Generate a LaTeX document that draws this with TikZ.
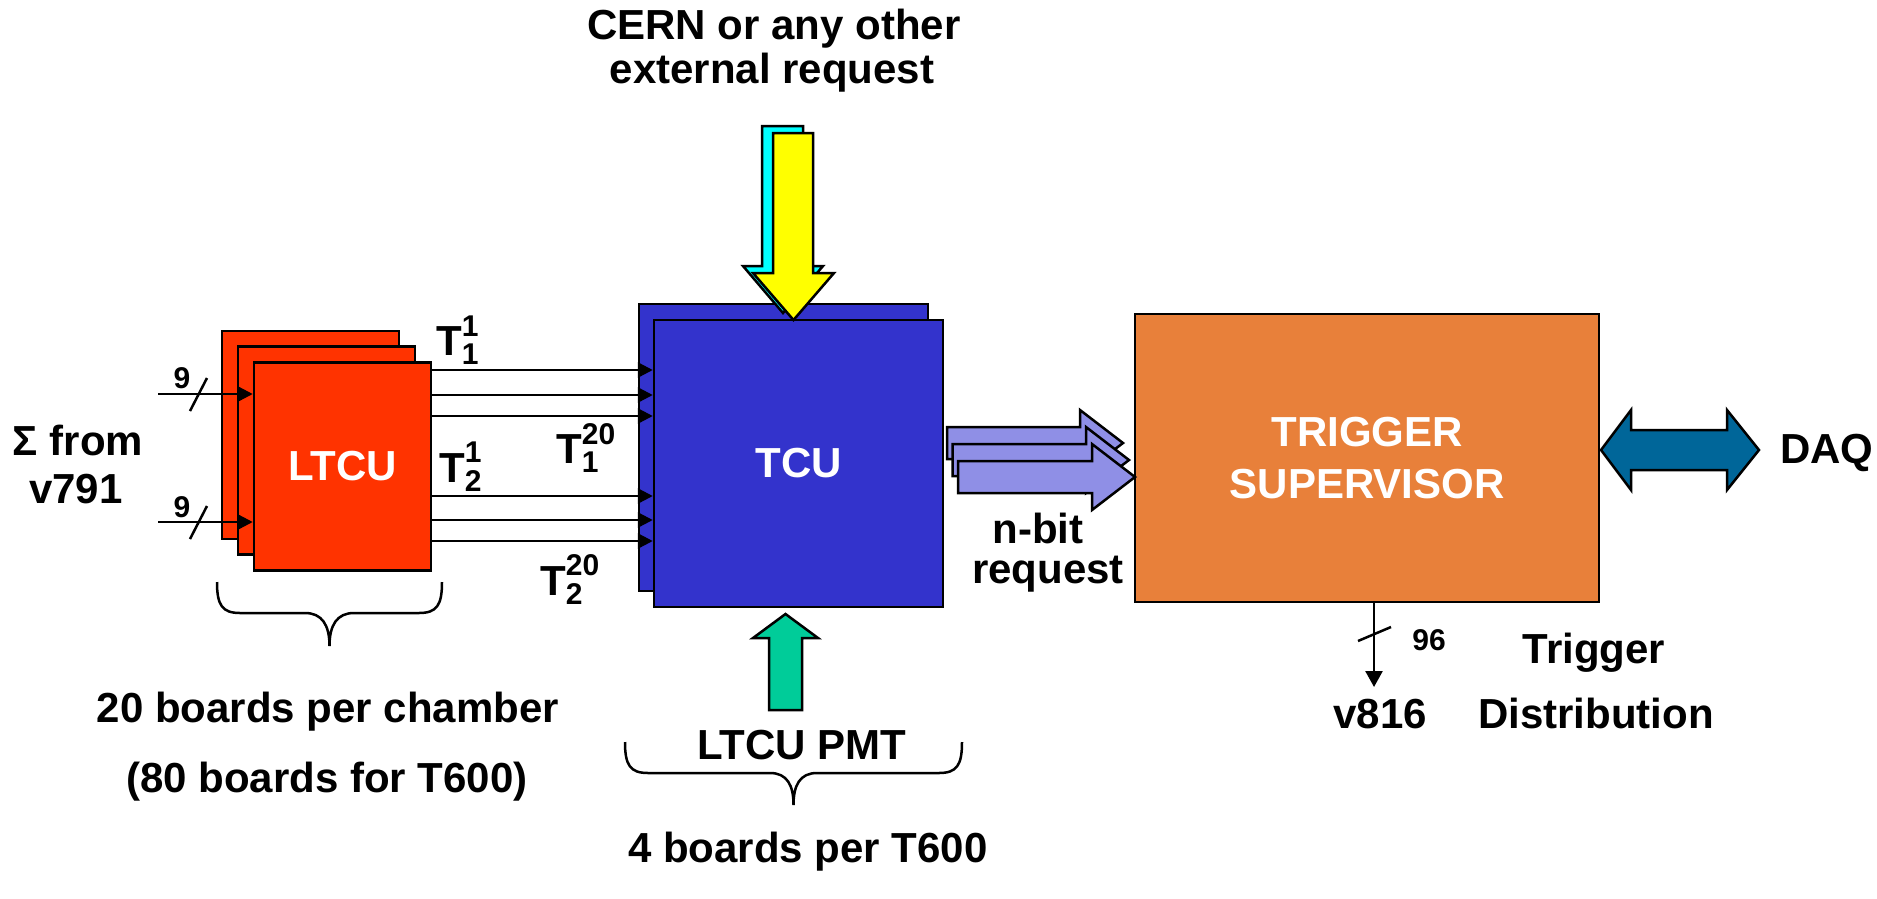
\documentclass[tikz,border=0pt]{standalone}
\usepackage{fontspec}
\setmainfont{Liberation Sans}
\usetikzlibrary{arrows.meta}

\definecolor{ltcured}{RGB}{255,51,0}
\definecolor{tcublue}{RGB}{51,51,204}
\definecolor{reqblue}{RGB}{143,143,230}
\definecolor{pmtgreen}{RGB}{0,204,153}
\definecolor{extcyan}{RGB}{0,255,255}
\definecolor{extyellow}{RGB}{255,255,0}
\definecolor{tsorange}{RGB}{232,128,58}
\definecolor{daqblue}{RGB}{0,102,153}

\newcommand{\bigfont}{\fontsize{42}{52}\selectfont\bfseries}
\newcommand{\idxfont}{\fontsize{30}{24}\selectfont\bfseries}
\newcommand{\busfont}{\fontsize{30}{34}\selectfont\bfseries}
% T with stacked superscript (top row) and subscript (bottom row)
\newcommand{\Tsig}[2]{T\raisebox{-9pt}{\idxfont\begin{tabular}[b]{@{}l@{}}#2\\#1\end{tabular}}}

\begin{document}
\begin{tikzpicture}[x=1pt,y=-1pt,line join=miter,
  board/.style={draw=black,line width=2.5pt,rectangle,inner sep=0pt},
  ltcubox/.style={board,fill=ltcured,minimum width=177pt,minimum height=208pt},
  tcubox/.style={board,fill=tcublue,minimum width=289pt,minimum height=287pt},
  txt/.style={font=\bigfont,inner sep=0pt,anchor=base},
  sig/.style={line width=2.5pt,-{Triangle[length=15pt,width=15pt]}},
  bus/.style={line width=2.5pt},
  blockarrow/.style={draw=black,line width=2.5pt},
  brace/.style={line width=2.5pt}]

\useasboundingbox (0,0) rectangle (1877,898);

% ---- LTCU stack ----
\node[ltcubox] (ltcu3) at (310.5,435) {};
\node[ltcubox] (ltcu2) at (326.5,450.5) {};
\node[ltcubox,font=\bigfont,text=white] (ltcu) at (342.5,466.5) {LTCU};

% ---- TCU stack ----
\node[tcubox] (tcuback) at (783.5,447.5) {};
\node[tcubox,font=\bigfont,text=white] (tcu) at (798.5,463.5) {TCU};

% ---- Trigger supervisor ----
\node[board,fill=tsorange,minimum width=464pt,minimum height=288pt,
      font=\bigfont,text=white,align=center] (ts) at (1367,458)
      {TRIGGER\\SUPERVISOR};

% ---- inputs to the LTCU ----
\node[txt] (sig1) at (78,455) {Σ from};
\node[txt] (sig2) at (76,503) {v791};
\coordinate (in1) at (158,394);
\coordinate (in2) at (158,522);
\draw[sig] (in1) -- (ltcu.west |- in1);
\draw[sig] (in2) -- (ltcu.west |- in2);
\draw[bus] (190,411) -- (207,378);
\draw[bus] (190,539) -- (207,506);
\node[font=\busfont,inner sep=0pt,anchor=base] (w1) at (182,388) {9};
\node[font=\busfont,inner sep=0pt,anchor=base] (w2) at (182,517) {9};

% ---- LTCU outputs to the TCU ----
\foreach \yy in {370,395,416,496,520,541}
  \draw[sig] (ltcu.east |- 0,\yy) -- (tcu.west |- 0,\yy);
\node[txt,anchor=base west] (t11) at (436,355) {\Tsig{1}{1}};
\node[txt,anchor=base west] (t120) at (556,463) {\Tsig{1}{20}};
\node[txt,anchor=base west] (t21) at (439,482) {\Tsig{2}{1}};
\node[txt,anchor=base west] (t220) at (540,595) {\Tsig{2}{20}};

% ---- external request (double block arrow from above) ----
\draw[blockarrow,fill=extcyan] (762,126) -- (803,126) -- (803,266) -- (823,266)
  -- (783,313) -- (743,266) -- (762,266) -- cycle;
\draw[blockarrow,fill=extyellow] (773,133) -- (813,133) -- (813,273) -- (834,273)
  -- (793.5,320) -- (753,273) -- (773,273) -- cycle;
\node[txt] (cern1) at (774,39) {CERN or any other};
\node[txt] (cern2) at (772,83) {external request};

% ---- PMT input from below ----
\draw[blockarrow,fill=pmtgreen] (769,710) -- (769,638) -- (753,638) -- (785.5,614)
  -- (818,638) -- (802,638) -- (802,710) -- cycle;
\node[txt] (pmt) at (802,759) {LTCU PMT};

% ---- n-bit request arrows ----
\foreach \k in {0,1,2} {
  \pgfmathsetmacro{\L}{947+5.5*\k}
  \pgfmathsetmacro{\T}{427+17*\k}
  \pgfmathsetmacro{\H}{1080+6*\k}
  \draw[blockarrow,fill=reqblue] (\L,\T) -- (\H,\T) -- (\H,\T-17) -- (\H+43,\T+16)
    -- (\H,\T+49) -- (\H,\T+32) -- (\L,\T+32) -- cycle;
}
\node[txt] (nbit) at (1038,543) {n-bit};
\node[txt] (nreq) at (1048,583) {request};

% ---- DAQ link ----
\draw[blockarrow,fill=daqblue] (1601,450) -- (1631,410) -- (1631,430) -- (1727,430)
  -- (1727,410) -- (1759,450) -- (1727,490) -- (1727,470) -- (1631,470)
  -- (1631,490) -- cycle;
\node[txt,anchor=base west] (daq) at (1780,463) {DAQ};

% ---- trigger distribution ----
\coordinate (v816in) at (1374,687);
\draw[line width=2.5pt,-{Triangle[length=16pt,width=17pt]}] (ts.south -| v816in) -- (v816in);
\draw[bus] (1358,641) -- (1391,627);
\node[font=\busfont,inner sep=0pt,anchor=base] (w96) at (1429,650) {96};
\node[txt] (v816) at (1380,728) {v816};
\node[txt] (trig) at (1594,663) {Trigger};
\node[txt] (dist) at (1596,728) {Distribution};

% ---- braces ----
\draw[brace] (217,582) .. controls (217,605) and (222,613) .. (240,613) -- (305,613)
  .. controls (322,613) and (329.5,625) .. (329.5,646)
  .. controls (329.5,625) and (337,613) .. (354,613) -- (419,613)
  .. controls (437,613) and (442,605) .. (442,582);
\node[txt] (b20) at (328,722) {20 boards per chamber};
\node[txt] (b80) at (327,792) {(80 boards for T600)};

\draw[brace] (625,742) .. controls (625,765) and (630,773) .. (648,773) -- (770,773)
  .. controls (787,773) and (793.5,785) .. (793.5,805)
  .. controls (793.5,785) and (800,773) .. (817,773) -- (939,773)
  .. controls (957,773) and (962,765) .. (962,742);
\node[txt] (b4) at (808,862) {4 boards per T600};

\end{tikzpicture}
\end{document}
